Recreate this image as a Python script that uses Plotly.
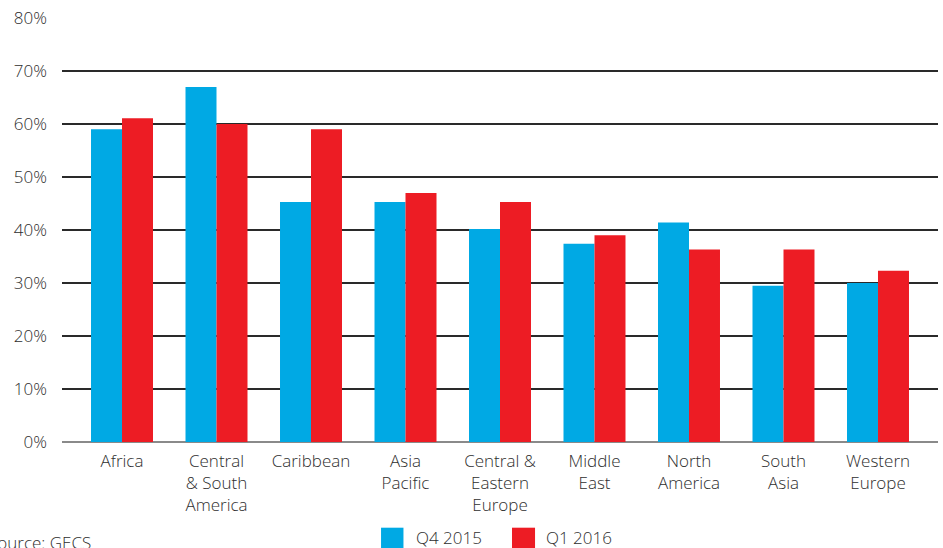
import plotly.graph_objects as go

regions = [
    "Africa",
    "Central<br>& South<br>America",
    "Caribbean",
    "Asia<br>Pacific",
    "Central &<br>Eastern<br>Europe",
    "Middle<br>East",
    "North<br>America",
    "South<br>Asia",
    "Western<br>Europe",
]
q4_2015 = [59, 67, 45.3, 45.3, 40.2, 37.4, 41.4, 29.5, 30]
q1_2016 = [61.1, 60, 59, 47, 45.3, 39, 36.3, 36.3, 32.3]

series_names = ["Q4 2015", "Q1 2016"]
tick_vals = [0, 10, 20, 30, 40, 50, 60, 70, 80]
tick_text = [f"{v}%" for v in tick_vals]

BLUE = "#00A9E4"
RED = "#ED1C24"
FONT = "Open Sans"
TEXT = "#2e2e2e"
FS = 17
WT = 300

fig = go.Figure()
for name, vals, color in zip(series_names, [q4_2015, q1_2016], [BLUE, RED]):
    fig.add_trace(go.Bar(x=regions, y=vals, name=name, marker_color=color,
                         marker_line_width=0, showlegend=False))

# legend: large swatches with labels below the chart
swatches = [(0.3642, 0.3898, 0.403), (0.5137, 0.5400, 0.5514)]
shapes, annotations = [], []
for name, color, (x0, x1, xt) in zip(series_names, [BLUE, RED], swatches):
    shapes.append(dict(type="rect", xref="paper", yref="paper",
                       x0=x0, x1=x1, y0=-0.2541, y1=-0.2021,
                       fillcolor=color, line=dict(width=0)))
    annotations.append(dict(text=name, xref="paper", yref="paper",
                            x=xt, y=-0.2245, xanchor="left", yanchor="middle",
                            borderpad=0, showarrow=False,
                            font=dict(size=FS, color=TEXT, weight=WT)))
annotations.append(dict(text="Source: GECS", xref="paper", yref="paper",
                        x=-0.086, y=-0.236, xanchor="left", yanchor="middle",
                        borderpad=0, showarrow=False,
                        font=dict(size=FS, color=TEXT, weight=WT)))

fig.update_layout(
    width=943, height=548,
    margin=dict(l=62, r=5, t=18, b=106, autoexpand=False),
    plot_bgcolor="white", paper_bgcolor="white",
    font=dict(family=FONT, size=FS, color=TEXT, weight=WT),
    barmode="group", bargap=0.344, bargroupgap=0,
    showlegend=False,
    shapes=shapes,
    annotations=annotations,
)
fig.update_xaxes(range=[-0.635, 8.635], showgrid=False, showline=False,
                 ticks="", tickfont=dict(size=FS, weight=WT), fixedrange=True,
                 ticklabelstandoff=7)
fig.update_yaxes(range=[0, 80], tickvals=tick_vals, ticktext=tick_text,
                 showgrid=True, gridcolor="#2a2a2a", gridwidth=1.5,
                 zeroline=True, zerolinecolor="#8a8a8a", zerolinewidth=2,
                 ticks="", ticklabelstandoff=14,
                 tickfont=dict(size=FS, weight=WT), fixedrange=True)

fig.write_html("out.html")
